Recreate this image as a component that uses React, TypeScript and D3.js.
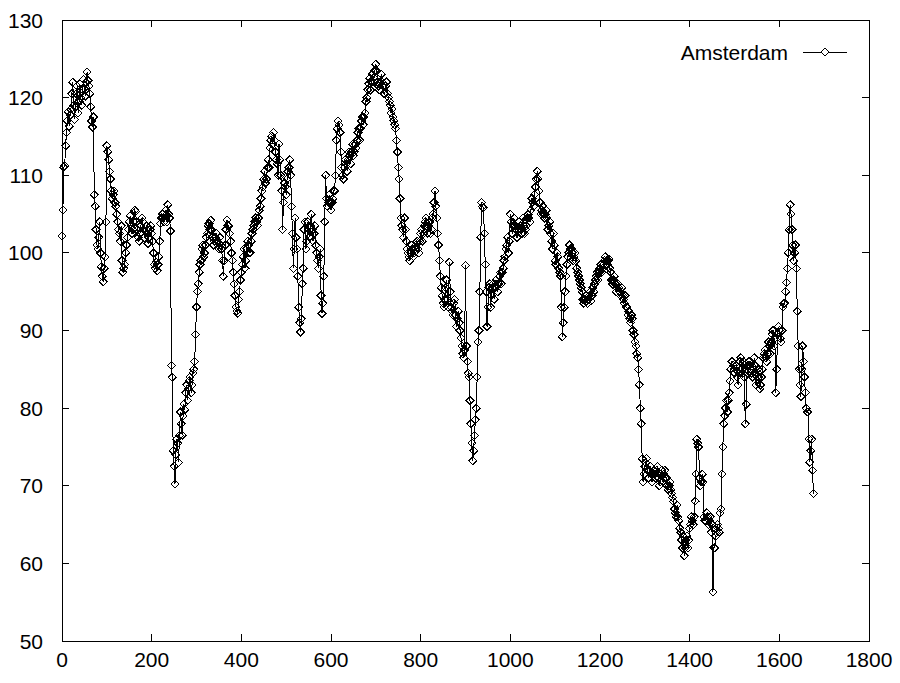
import React from "react";
import * as d3 from "d3";

const seriesName = "Amsterdam";
const dayStep = 2;
const prices: number[] = [
  102.2, 105.5, 111.0, 111.2, 113.8, 115.5, 117.0, 118.2, 116.3, 117.8, 118.5, 120.5, 122.0, 119.0, 117.2, 118.8, 120.5, 121.5, 118.0, 119.5,
  121.8, 120.0, 119.0, 121.0, 122.3, 121.2, 120.2, 122.0, 123.3, 122.2, 121.5, 120.5, 118.8, 117.0, 116.2, 117.5, 107.5, 106.0, 103.0, 101.0,
  100.5, 102.0, 104.0, 100.0, 98.2, 97.0, 96.3, 98.0, 99.5, 104.0, 113.8, 113.0, 112.0, 110.5, 109.5, 108.0, 107.0, 107.5, 108.0, 106.5,
  106.0, 105.0, 104.0, 103.0, 102.5, 101.5, 103.5, 99.0, 97.5, 98.0, 98.5, 100.0, 101.0, 102.0, 103.0, 104.0, 104.8, 103.5, 102.5, 103.0,
  104.0, 105.5, 105.3, 104.0, 103.0, 102.0, 101.5, 102.5, 103.5, 104.5, 104.0, 103.0, 102.0, 102.8, 103.5, 102.5, 101.2, 102.0, 103.0, 103.5,
  102.5, 101.5, 100.0, 98.5, 98.0, 98.8, 97.7, 98.5, 99.5, 101.5, 103.8, 104.5, 105.0, 104.5, 104.0, 104.8, 105.5, 104.0, 106.2, 105.0,
  104.5, 102.8, 85.5, 84.0, 74.5, 72.5, 70.2, 74.0, 76.0, 75.5, 73.0, 76.5, 79.5, 78.0, 76.5, 79.0, 80.5, 79.8, 82.0, 83.0,
  81.0, 82.5, 83.5, 84.0, 82.0, 83.0, 84.5, 85.0, 86.0, 89.5, 93.0, 95.0, 96.0, 97.5, 98.5, 99.0, 100.5, 101.0, 99.5, 100.0,
  101.0, 102.0, 102.5, 103.5, 103.8, 103.0, 104.2, 103.0, 102.0, 101.0, 101.5, 102.0, 102.5, 101.5, 101.0, 100.5, 102.0, 101.0, 100.5, 99.0,
  97.0, 99.0, 101.0, 103.0, 104.2, 103.5, 103.5, 102.5, 101.5, 100.0, 99.0, 97.5, 96.0, 94.5, 93.0, 92.5, 92.2, 94.0, 95.0, 96.5,
  97.5, 98.5, 99.5, 100.5, 98.0, 99.0, 100.5, 101.5, 101.0, 100.0, 100.0, 101.5, 102.5, 103.0, 103.5, 104.0, 104.5, 104.0, 103.5, 104.5,
  105.5, 106.0, 107.0, 108.0, 108.5, 109.5, 110.5, 109.0, 109.5, 111.0, 112.0, 111.0, 113.5, 114.5, 115.0, 114.0, 115.5, 114.5, 113.0, 112.0,
  111.5, 110.0, 114.0, 112.0, 110.0, 108.0, 103.0, 106.5, 109.0, 108.5, 107.5, 109.5, 110.5, 111.0, 112.0, 110.0, 106.0, 102.5, 98.0, 100.5,
  104.5, 102.0, 100.5, 97.0, 93.0, 91.0, 89.8, 91.5, 96.0, 98.0, 103.0, 104.0, 100.5, 101.5, 104.0, 102.5, 102.0, 103.5, 105.0, 103.0,
  101.5, 102.5, 103.5, 101.0, 100.0, 99.0, 98.0, 99.5, 100.5, 94.5, 92.2, 93.5, 97.0, 104.0, 110.0, 107.0, 106.0, 106.5, 107.5, 106.5,
  105.5, 106.5, 107.0, 108.0, 108.0, 110.0, 114.5, 116.0, 117.0, 116.5, 115.5, 113.0, 111.0, 110.0, 109.5, 111.0, 112.0, 111.5, 110.5, 112.0,
  113.0, 112.5, 111.5, 113.0, 114.0, 112.5, 113.0, 114.0, 113.5, 114.5, 115.5, 116.0, 114.5, 116.0, 117.0, 117.5, 116.5, 117.5, 118.0, 119.5,
  120.0, 121.0, 121.8, 122.5, 121.0, 122.0, 123.0, 122.0, 122.5, 123.5, 124.3, 123.5, 122.0, 121.5, 121.0, 122.0, 123.0, 122.0, 121.5, 120.5,
  120.5, 121.5, 122.0, 120.5, 120.0, 119.5, 119.0, 118.0, 118.5, 117.5, 117.0, 116.5, 116.0, 114.5, 113.0, 111.0, 109.5, 107.0, 104.5, 103.5,
  103.0, 102.0, 104.5, 103.0, 101.5, 100.5, 100.0, 99.5, 99.0, 100.0, 101.0, 100.5, 99.5, 100.0, 100.5, 101.0, 101.5, 100.5, 100.0, 101.5,
  102.5, 103.0, 101.5, 102.5, 103.5, 104.0, 104.5, 103.5, 102.5, 103.5, 104.0, 102.5, 103.0, 104.5, 105.0, 106.5, 108.0, 106.0, 104.5, 102.5,
  101.0, 99.0, 97.0, 95.5, 94.5, 93.5, 93.0, 94.0, 95.5, 96.5, 94.0, 93.0, 98.8, 95.0, 93.0, 92.5, 92.0, 93.5, 94.0, 92.0,
  90.5, 91.5, 92.5, 91.0, 90.0, 89.0, 88.0, 87.0, 86.5, 87.5, 98.4, 88.0, 86.0, 84.5, 84.0, 81.0, 78.0, 75.5, 73.2, 74.5,
  76.5, 78.5, 80.0, 84.0, 88.5, 90.0, 95.0, 102.0, 106.5, 106.0, 105.8, 102.5, 98.5, 95.0, 90.5, 93.0, 95.5, 96.0, 93.0, 94.5,
  95.5, 96.0, 94.0, 95.5, 96.5, 96.0, 95.0, 96.0, 97.0, 97.5, 96.0, 97.5, 98.0, 99.0, 99.5, 100.5, 101.0, 102.0, 100.0, 101.5,
  105.0, 104.0, 102.5, 103.5, 104.5, 103.5, 103.0, 102.0, 102.0, 103.0, 104.0, 103.5, 103.0, 102.5, 104.5, 103.5, 102.5, 103.0, 103.5, 104.5,
  105.0, 104.5, 104.0, 105.5, 107.0, 106.5, 106.0, 107.5, 108.5, 109.5, 110.5, 109.5, 108.0, 106.5, 105.0, 105.5, 106.0, 105.0, 104.5, 105.0,
  105.5, 104.5, 103.0, 103.5, 104.0, 102.5, 101.5, 100.5, 102.5, 101.0, 99.0, 98.5, 100.0, 99.5, 98.0, 97.5, 97.0, 93.0, 89.2, 91.0,
  93.0, 95.0, 97.0, 98.5, 99.5, 100.0, 101.0, 100.5, 100.5, 100.0, 99.0, 99.5, 100.0, 99.0, 98.0, 97.5, 97.0, 96.5, 96.0, 95.5,
  95.0, 94.0, 93.5, 94.0, 94.5, 93.8, 93.5, 94.0, 94.5, 95.0, 93.8, 94.5, 95.5, 95.0, 96.0, 96.5, 97.0, 97.5, 96.5, 97.5,
  98.0, 98.5, 97.5, 98.0, 98.5, 99.0, 99.5, 99.0, 98.5, 99.0, 99.2, 98.0, 97.5, 96.5, 96.0, 96.5, 97.0, 96.0, 95.0, 95.5,
  96.0, 95.5, 95.0, 94.5, 95.5, 94.5, 94.0, 93.5, 94.5, 93.0, 93.0, 92.0, 92.5, 91.5, 91.0, 92.0, 91.5, 90.0, 89.5, 88.5,
  88.0, 87.0, 86.5, 85.0, 83.0, 80.0, 78.0, 73.5, 70.5, 71.5, 72.5, 73.0, 73.5, 72.0, 71.0, 72.0, 72.5, 71.5, 70.5, 71.5,
  72.0, 71.5, 71.0, 72.0, 72.5, 71.0, 70.0, 70.5, 71.5, 72.0, 70.5, 71.5, 72.0, 71.0, 71.0, 70.0, 69.5, 70.0, 70.5, 69.5,
  69.0, 68.5, 68.0, 67.0, 66.5, 66.0, 67.5, 66.0, 65.5, 64.5, 64.0, 63.0, 62.0, 63.5, 61.0, 62.0, 63.0, 63.5, 62.0, 63.0,
  64.5, 65.0, 66.0, 65.5, 65.0, 66.0, 68.0, 71.5, 76.0, 75.5, 75.0, 71.0, 70.0, 70.5, 71.5, 70.5, 66.0, 65.5, 65.5, 66.5,
  66.0, 65.0, 65.5, 66.0, 64.0, 65.0, 56.3, 62.0, 62.0, 63.5, 64.0, 65.0, 64.5, 64.0, 66.5, 67.0, 71.5, 75.0, 78.0, 79.0,
  80.0, 81.0, 79.5, 81.0, 82.0, 83.5, 85.0, 86.0, 86.0, 85.5, 84.5, 85.0, 85.5, 84.0, 83.0, 84.5, 86.0, 86.5, 85.0, 84.5,
  86.0, 84.0, 78.0, 80.5, 84.5, 85.5, 86.0, 85.5, 85.0, 84.5, 84.0, 85.0, 86.5, 85.5, 83.0, 84.0, 85.0, 84.0, 82.5, 83.0,
  84.0, 85.0, 86.5, 87.0, 87.5, 86.5, 86.0, 87.0, 88.5, 88.0, 87.0, 88.5, 89.5, 90.0, 88.0, 89.0, 82.0, 85.0, 89.5, 90.5,
  90.0, 89.0, 88.5, 90.0, 93.0, 93.5, 93.5, 95.0, 96.2, 98.0, 100.0, 103.0, 106.2, 105.0, 103.0, 101.0, 99.0, 100.0, 101.0, 98.0,
  92.5, 88.0, 85.0, 83.0, 81.5, 85.0, 88.0, 86.0, 84.0, 82.0, 80.0, 79.5, 79.5, 76.0, 73.0, 74.5, 76.0, 72.0, 69.0,
];
const xTicks = [0, 200, 400, 600, 800, 1000, 1200, 1400, 1600, 1800];
const yTicks = [50, 60, 70, 80, 90, 100, 110, 120, 130];

const FONT = "'Liberation Sans', Arial, Helvetica, sans-serif";

export default function App() {
  const W = 900;
  const H = 683;
  const left = 62, right = 869, top = 20, bottom = 641;
  const x = d3.scaleLinear().domain([0, 1800]).range([left, right]);
  const y = d3.scaleLinear().domain([50, 130]).range([bottom, top]);
  const data = prices.map((v, i) => ({ day: i * dayStep, v }));
  const line = d3
    .line<{ day: number; v: number }>()
    .x((d) => x(d.day))
    .y((d) => y(d.v));
  const r = 4;
  const diamond = (cx: number, cy: number) =>
    `M${cx},${cy - r}L${cx + r},${cy}L${cx},${cy + r}L${cx - r},${cy}Z`;
  const tl = 7;
  const fs = 21;
  const legendY = 52;
  const legX1 = 803, legX2 = 847;

  return (
    <svg
      width={W}
      height={H}
      style={{ position: "absolute", left: 0, top: 0, background: "#fff" }}
      fontFamily={FONT}
    >
      <rect x={0} y={0} width={W} height={H} fill="#fff" />
      {xTicks.map((t) => (
        <g key={"xt" + t}>
          <line x1={x(t)} x2={x(t)} y1={bottom} y2={bottom - tl} stroke="#000" shapeRendering="crispEdges" />
          <line x1={x(t)} x2={x(t)} y1={top} y2={top + tl} stroke="#000" shapeRendering="crispEdges" />
          <text x={x(t)} y={bottom + 26} fontSize={fs} textAnchor="middle" fill="#000">
            {t}
          </text>
        </g>
      ))}
      {yTicks.map((t) => (
        <g key={"yt" + t}>
          <line x1={left} x2={left + tl} y1={y(t)} y2={y(t)} stroke="#000" shapeRendering="crispEdges" />
          <line x1={right} x2={right - tl} y1={y(t)} y2={y(t)} stroke="#000" shapeRendering="crispEdges" />
          <text x={left - 19} y={y(t) + 7.5} fontSize={fs} textAnchor="end" fill="#000">
            {t}
          </text>
        </g>
      ))}
      <rect
        x={left}
        y={top}
        width={right - left}
        height={bottom - top}
        fill="none"
        stroke="#000"
        strokeWidth={1}
        shapeRendering="crispEdges"
      />
      <g shapeRendering="crispEdges">
        <path d={line(data) || ""} fill="none" stroke="#000" strokeWidth={1} />
        {data.map((d, i) => (
          <path
            key={i}
            d={diamond(x(d.day), y(d.v))}
            fill="none"
            stroke="#000"
            strokeWidth={1}
          />
        ))}
      </g>
      <text x={legX1 - 15} y={legendY + 7.5} fontSize={fs} textAnchor="end" fill="#000">
        {seriesName}
      </text>
      <g shapeRendering="crispEdges">
        <line x1={legX1} x2={legX2} y1={legendY} y2={legendY} stroke="#000" />
        <path d={diamond((legX1 + legX2) / 2, legendY)} fill="#fff" stroke="#000" />
      </g>
    </svg>
  );
}
